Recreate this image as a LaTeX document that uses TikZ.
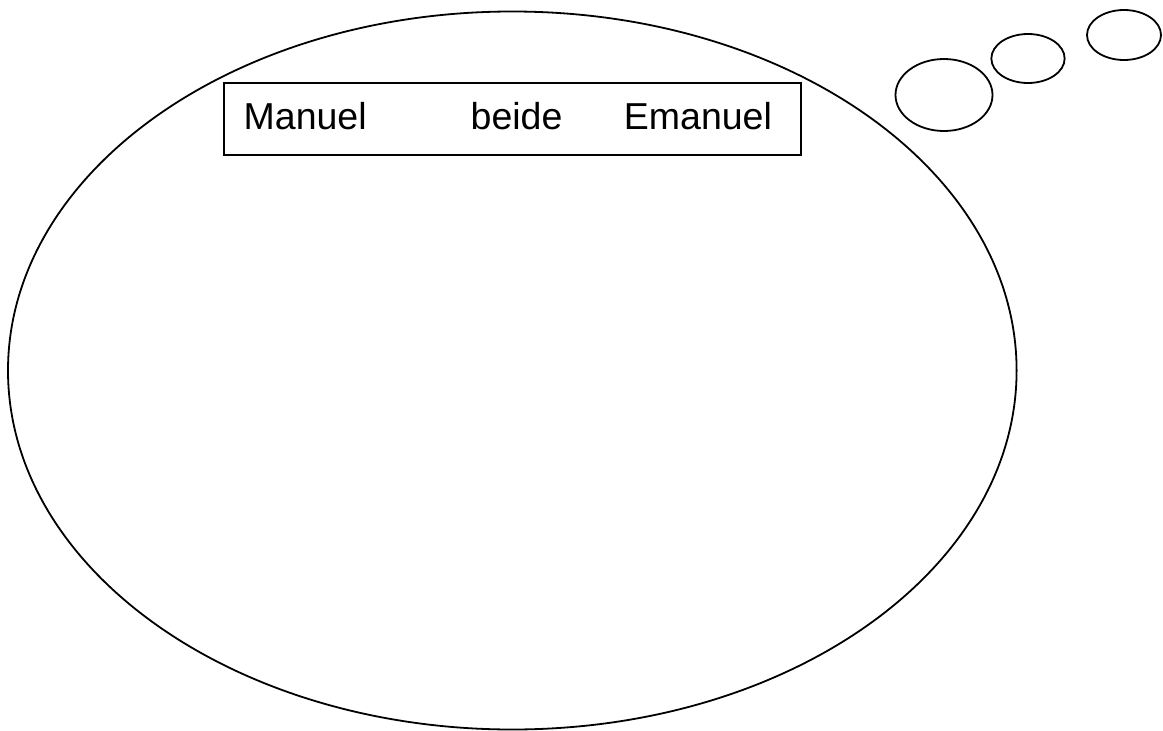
\documentclass[tikz,border=0pt]{standalone}
\usepackage{fontspec}
\setmainfont{Liberation Sans}
\usetikzlibrary{shapes.geometric}
\begin{document}
\begin{tikzpicture}[x=1pt,y=-1pt,
  bubble/.style={draw=black,line width=1.8pt,ellipse,inner sep=0pt,outer sep=0pt},
  namebox/.style={draw=black,line width=1.8pt,rectangle,inner sep=0pt,outer sep=0pt},
  word/.style={anchor=base west,inner sep=0pt,font=\fontsize{37.5}{40}\selectfont}]
\useasboundingbox (0,0) rectangle (1163,731);
\node[bubble,minimum width=1008.6pt,minimum height=718pt] (big) at (512.3,370.5) {};
\node[bubble,minimum width=97pt,minimum height=72pt] (b1) at (944,95) {};
\node[bubble,minimum width=73.3pt,minimum height=49pt] (b2) at (1028,58.5) {};
\node[bubble,minimum width=74pt,minimum height=50pt] (b3) at (1124,35) {};
\node[namebox,minimum width=576.7pt,minimum height=72pt] (box) at (512.35,119) {};
\node[word] (m) at (243.5,129.3) {Manuel};
\node[word] (b) at (470.5,129.3) {beide};
\node[word] (e) at (623.7,129.3) {Emanuel};
\end{tikzpicture}
\end{document}
